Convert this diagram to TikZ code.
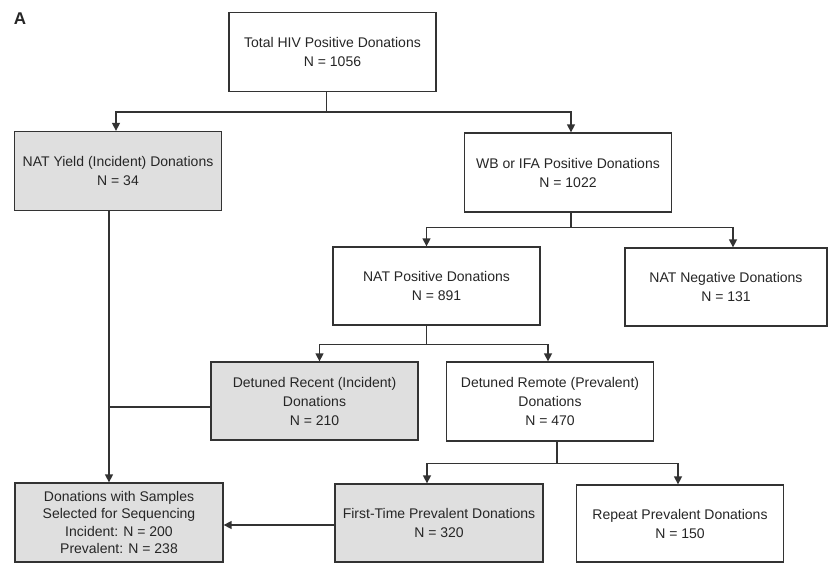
\documentclass[tikz,border=0pt]{standalone}
\usepackage{fontspec}
\setmainfont{Liberation Sans}
\usetikzlibrary{arrows.meta}

\tikzset{
  box/.style={draw=black!80, line width=1.3pt, align=center, text=black!85,
    font=\fontsize{14}{19}\selectfont, minimum width=207pt, minimum height=79pt,
    inner sep=2pt},
  shadebox/.style={box, fill=gray!25},
  link/.style={draw=black!80, line width=1.4pt},
  arr/.style={link, -{Triangle[length=8pt,width=8pt]}}
}

\begin{document}
\begin{tikzpicture}[x=1pt,y=-1pt]
    \useasboundingbox[fill=white] (0,0) rectangle (829,563);
    \node[font=\fontsize{17}{20}\selectfont\bfseries, text=black!85] (lbl) at (20,19) {A};
    % boxes
    \node[box] (total) at (332.5,52) {Total HIV Positive Donations\\N = 1056};
    \node[shadebox] (yield) at (118,171) {NAT Yield (Incident) Donations\\N = 34};
    \node[box] (wb) at (568,172.5) {WB or IFA Positive Donations\\N = 1022};
    \node[box, minimum height=78pt] (natpos) at (436.5,286) {NAT Positive Donations\\N = 891};
    \node[box, minimum width=202pt, minimum height=78pt] (natneg) at (726,287) {NAT Negative Donations\\N = 131};
    \node[shadebox, minimum height=78pt] (recent) at (314.5,401) {Detuned Recent (Incident)\\Donations\\N = 210};
    \node[box] (remote) at (550,401.5) {Detuned Remote (Prevalent)\\Donations\\N = 470};
    \node[shadebox, minimum width=208pt, minimum height=78pt] (first) at (439,523) {First-Time Prevalent Donations\\N = 320};
    \node[box, minimum height=77pt] (repeat) at (680,523.5) {Repeat Prevalent Donations\\N = 150};
    \node[shadebox, minimum width=208pt, font=\fontsize{14}{17.5}\selectfont] (samples) at (119,522.5)
        {Donations with Samples\\Selected for Sequencing\\Incident: N = 200\\Prevalent: N = 238};
    % splits
    \draw[link] ([xshift=-6pt]total.south) -- ++(0,20) coordinate (j1);
    \draw[arr] (j1) -| ([xshift=-2pt]yield.north);
    \draw[arr] (j1) -| ([xshift=3pt]wb.north);
    \draw[link] ([xshift=3pt]wb.south) -- ++(0,15) coordinate (j2);
    \draw[arr] (j2) -| ([xshift=-10pt]natpos.north);
    \draw[arr] (j2) -| ([xshift=7pt]natneg.north);
    \draw[link] ([xshift=-10pt]natpos.south) -- ++(0,19) coordinate (j3);
    \draw[arr] (j3) -| ([xshift=5pt]recent.north);
    \draw[arr] (j3) -| ([xshift=-2pt]remote.north);
    \draw[link] ([xshift=7pt]remote.south) -- ++(0,22) coordinate (j4);
    \draw[arr] (j4) -| ([xshift=-12pt]first.north);
    \draw[arr] (j4) -| ([xshift=-2pt]repeat.north);
    % merges into sequencing box
    \draw[arr] ([xshift=-9pt]yield.south) coordinate (y0) -- (y0 |- samples.north);
    \draw[link] ([yshift=-6pt]recent.west) -- ([yshift=-6pt]recent.west -| y0);
    \draw[arr] ([yshift=-2pt]first.west) -- ([yshift=-2pt]first.west -| samples.east);
\end{tikzpicture}
\end{document}
